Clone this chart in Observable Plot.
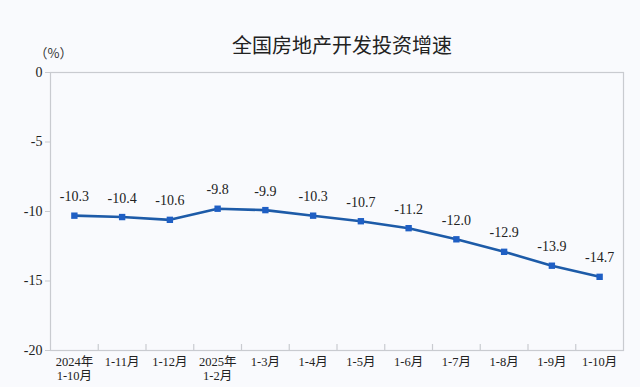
<!DOCTYPE html>
<html><head><meta charset="utf-8">
<script src="https://cdn.jsdelivr.net/npm/d3@7"></script>
<script src="https://cdn.jsdelivr.net/npm/@observablehq/plot@0.6"></script>
<style>
html,body{margin:0;padding:0;background:#f9fafd;}
#chart svg{display:block;background:#f9fafd;}
</style></head>
<body><div id="chart"></div>
<script>
const title = "全国房地产开发投资增速";
const unitLabel = "（%）";
const categories = ["2024年\n1-10月","1-11月","1-12月","2025年\n1-2月","1-3月","1-4月","1-5月","1-6月","1-7月","1-8月","1-9月","1-10月"];
const values = [-10.3,-10.4,-10.6,-9.8,-9.9,-10.3,-10.7,-11.2,-12.0,-12.9,-13.9,-14.7];
const yTicks = [0,-5,-10,-15,-20];

const data = categories.map((c,i)=>({i, c, x: i + 0.5, v: values[i]}));
const boundaries = d3.range(1, categories.length);
const serif = "Liberation Serif, Times New Roman, Noto Sans CJK SC, serif";
const lineColor = "#1d5ba8";

const chart = Plot.plot({
  width: 640, height: 387,
  marginTop: 72, marginBottom: 37, marginLeft: 50, marginRight: 17,
  style: {background: "#f9fafd", fontFamily: serif},
  x: {domain: [0, categories.length], axis: null},
  y: {domain: [-20, 0], axis: null},
  marks: [
    Plot.frame({stroke: "#c9cbd0", strokeWidth: 1.2}),
    Plot.ruleX(boundaries, {x: d => d, insetTop: 272, stroke: "#c9cbd0", strokeWidth: 1.2}),
    Plot.axisY({ticks: yTicks, tickSize: 5, tickPadding: 3, tickFormat: d => String(d), label: null,
      fontSize: 14, stroke: "#c9cbd0", fill: "#222", fontFamily: serif}),
    Plot.axisX({ticks: data.map(d=>d.x), tickSize: 0, tickPadding: 6,
      tickFormat: (t) => categories[Math.round(t - 0.5)], fontSize: 12.5, fill: "#222", label: null,
      lineHeight: 1.12, fontFamily: serif}),
    Plot.line(data, {x: "x", y: "v", stroke: lineColor, strokeWidth: 2.6}),
    Plot.dot(data, {x: "x", y: "v", symbol: "square", r: 3.6, fill: "#1f5fc4", stroke: "none"}),
    Plot.text(data, {x: "x", y: "v", text: d => d.v.toFixed(1), dy: -19, fontSize: 14, fill: "#222", fontFamily: serif}),
    Plot.text([title], {frameAnchor: "top", dy: -34, dx: 5, fontSize: 20, fill: "#222",
      fontFamily: "Noto Sans CJK SC, Noto Sans, sans-serif"}),
    Plot.text([unitLabel], {frameAnchor: "top-left", dy: -24, dx: -16, textAnchor: "start", fontSize: 13, fill: "#333",
      fontFamily: "Noto Sans CJK SC, sans-serif"})
  ]
});
document.getElementById("chart").append(chart);
</script></body></html>
